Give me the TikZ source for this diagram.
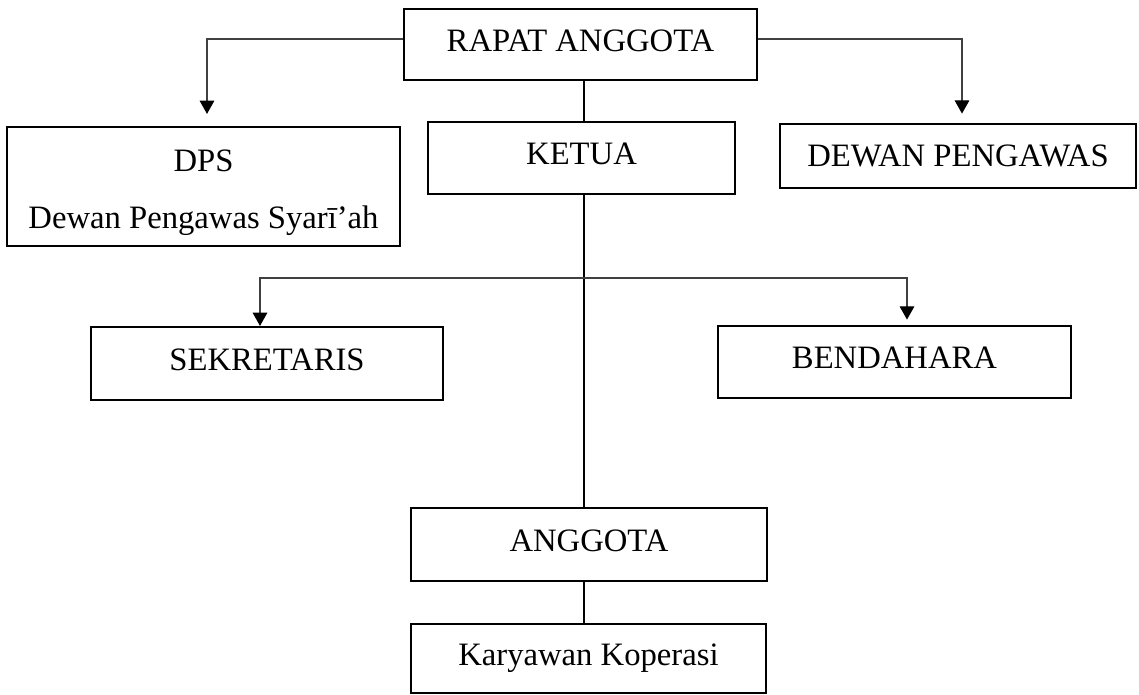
\documentclass[tikz,border=0pt]{standalone}
\usepackage{fontspec}
\setmainfont{Liberation Serif}
\usetikzlibrary{arrows.meta}

\tikzset{
  orgbox/.style={draw, line width=1.6pt, inner sep=0pt, align=center,
    font=\fontsize{24.5}{29.4}\selectfont},
  onelinebox/.style={orgbox, text height=16.5pt, text depth=6.3pt},
  trunk/.style={line width=1.6pt},
  branch/.style={line width=0.9pt, draw=black!75},
  downarrow/.style={branch, -{Triangle[width=11pt,length=10pt,color=black]}},
}

\begin{document}
\begin{tikzpicture}[x=0.75pt,y=0.75pt,yscale=-1,xscale=1]
\useasboundingbox (0,0) rectangle (1139,695);

% Boxes
\node[onelinebox, minimum width=264.75pt, minimum height=53.25pt] (rapat) at (580.5,44.5) {RAPAT ANGGOTA};
\node[onelinebox, minimum width=230.25pt, minimum height=54pt] (ketua) at (581.5,158) {KETUA};
\node[orgbox, minimum width=294.75pt, minimum height=89.25pt] (dps) at (203.5,186.5) {\rule{0pt}{25.6pt}DPS\\[14pt]Dewan Pengawas Syarī’ah};
\node[onelinebox, text depth=0.3pt, minimum width=267pt, minimum height=48pt] (dewan) at (958,156) {DEWAN PENGAWAS};
\node[onelinebox, minimum width=264pt, minimum height=54.75pt] (sekretaris) at (267,363.5) {SEKRETARIS};
\node[onelinebox, minimum width=264.75pt, minimum height=54pt] (bendahara) at (894.5,362) {BENDAHARA};
\node[onelinebox, minimum width=267pt, minimum height=54.75pt] (anggota) at (589,544.5) {ANGGOTA};
\node[onelinebox, minimum width=266.25pt, minimum height=51.75pt] (karyawan) at (588.5,658.5) {Karyawan Koperasi};

% Turning points
\coordinate (dpsturn) at (207,39);
\coordinate (dewanturn) at (962,39);
\coordinate (spine) at (584,278);
\coordinate (sekturn) at (260,278);
\coordinate (benturn) at (907,278);

% Connectors
\draw[downarrow, shorten >=9pt] (rapat.west |- dpsturn) -- (dpsturn) -- (dpsturn |- dps.north);
\draw[downarrow, shorten >=7pt] (rapat.east |- dewanturn) -- (dewanturn) -- (dewanturn |- dewan.north);
\draw[trunk] (rapat.south -| spine) -- (ketua.north -| spine);
\draw[trunk] (ketua.south -| spine) -- (anggota.north -| spine);
\draw[trunk] (anggota.south -| spine) -- (karyawan.north -| spine);
\draw[downarrow] (spine) -- (sekturn) -- (sekturn |- sekretaris.north);
\draw[downarrow, shorten >=4pt] (spine) -- (benturn) -- (benturn |- bendahara.north);

\end{tikzpicture}
\end{document}
